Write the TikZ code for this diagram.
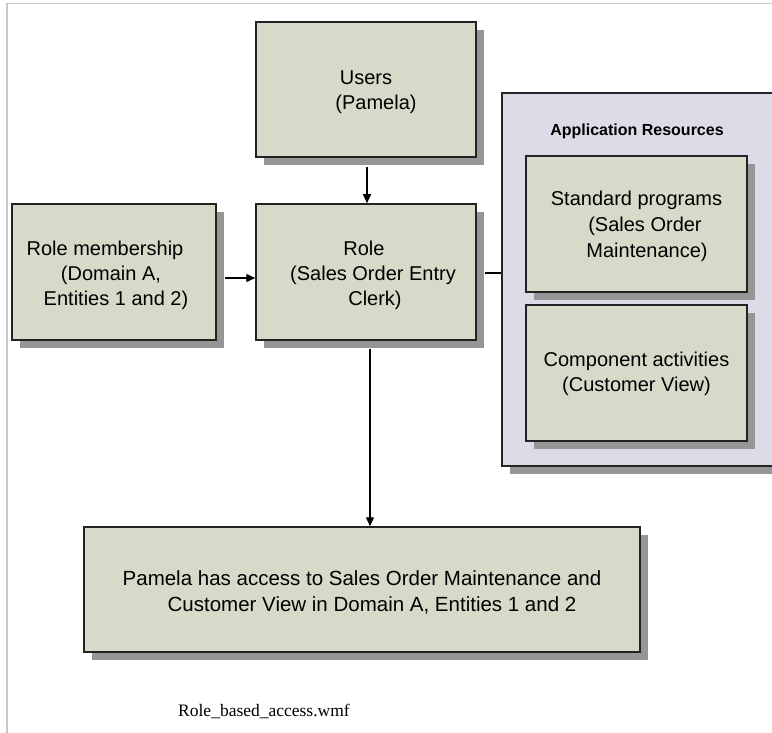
\documentclass[tikz,border=0pt]{standalone}
\usepackage{fontspec}
\setmainfont{Liberation Sans}
\newfontfamily\captionserif{Liberation Serif}
\usetikzlibrary{arrows.meta,shadows}

\definecolor{boxfill}{RGB}{216,218,201}
\definecolor{resfill}{RGB}{221,219,231}
\definecolor{shadowgray}{RGB}{150,150,150}
\definecolor{framegray}{RGB}{200,200,200}
\definecolor{edgegray}{RGB}{35,35,35}

\tikzset{
  x=1pt, y=-1pt,
  boxbase/.style={rectangle, draw=edgegray, line width=1.5pt, inner sep=0pt,
    drop shadow={shadow xshift=8pt, shadow yshift=-8pt, fill=shadowgray, opacity=1}},
  greenbox/.style={boxbase, fill=boxfill},
  resbox/.style={boxbase, fill=resfill},
  boxtext/.style={inner sep=0pt, align=center, font=\fontsize{20}{25}\selectfont},
  link/.style={draw=black, line width=1.4pt},
  arr/.style={link, -{Triangle[length=9pt,width=8pt]}},
}

\begin{document}
\begin{tikzpicture}
\useasboundingbox (0,0) rectangle (772,733);
\clip (0,0) rectangle (772,733);
\fill[white] (0,0) rectangle (772,733);

% page frame
\draw[framegray, line width=1.5pt] (7,733) -- (7,3.5) -- (780,3.5);

% resource container (runs past the right edge)
\node[resbox, minimum width=290pt, minimum height=373pt] (res) at (647,279.5) {};
\node[font=\bfseries\fontsize{16}{19}\selectfont] (restitle) at (637,131) {Application Resources};

\node[greenbox, minimum width=221pt, minimum height=136pt] (std) at (636.5,224) {};
\node[boxtext, font=\fontsize{20}{26}\selectfont] (stdtext) at ([yshift=-2.5pt]std.center)
  {Standard programs\\\hspace*{17pt}(Sales Order\\\hspace*{21pt}Maintenance)};
\node[greenbox, minimum width=221pt, minimum height=136pt] (comp) at (636.5,373) {};
\node[boxtext] (comptext) at ([yshift=-1pt]comp.center)
  {Component activities\\(Customer View)};

% main boxes
\node[greenbox, minimum width=220pt, minimum height=135pt] (users) at (366,89.5) {};
\node[boxtext] (userstext) at ([yshift=-3pt]users.center)
  {Users\\\hspace*{20pt}(Pamela)};
\node[greenbox, minimum width=220pt, minimum height=136pt] (role) at (366,272) {};
\node[boxtext] (roletext) at ([yshift=-3pt]role.center)
  {\hspace*{-4pt}Role\\\hspace*{14pt}(Sales Order Entry\\\hspace*{18pt}Clerk)};
\node[greenbox, minimum width=204pt, minimum height=136pt] (member) at (114,272) {};
\node[boxtext] (membertext) at ([yshift=-3pt]member.center)
  {\hspace*{-18pt}Role membership\\\hspace*{-6pt}(Domain A,\\\hspace*{4pt}Entities 1 and 2)};
\node[greenbox, minimum width=556pt, minimum height=125pt] (access) at (362,589.5) {};
\node[boxtext, font=\fontsize{20.5}{26.5}\selectfont] (accesstext) at ([yshift=-3pt]access.center)
  {Pamela has access to Sales Order Maintenance and\\\hspace*{20pt}Customer View in Domain A, Entities 1 and 2};

% connectors
\draw[arr, shorten <=9pt] ([xshift=1pt]users.south) -- ([xshift=1pt]role.north);
\draw[arr, shorten <=8pt] ([yshift=-6pt]member.east) -- ([yshift=-6pt]role.west);
\draw[link, shorten <=8pt] ([yshift=-1pt]role.east) -- ([yshift=-1pt]role.east -| res.west);
\draw[arr, shorten <=8pt] ([xshift=4pt]role.south) -- ([xshift=4pt]role.south |- access.north);

% file name
\node[anchor=west, font=\captionserif\fontsize{17.5}{20}\selectfont, inner sep=0pt] (fname) at (178,711) {Role\_based\_access.wmf};
\end{tikzpicture}
\end{document}
